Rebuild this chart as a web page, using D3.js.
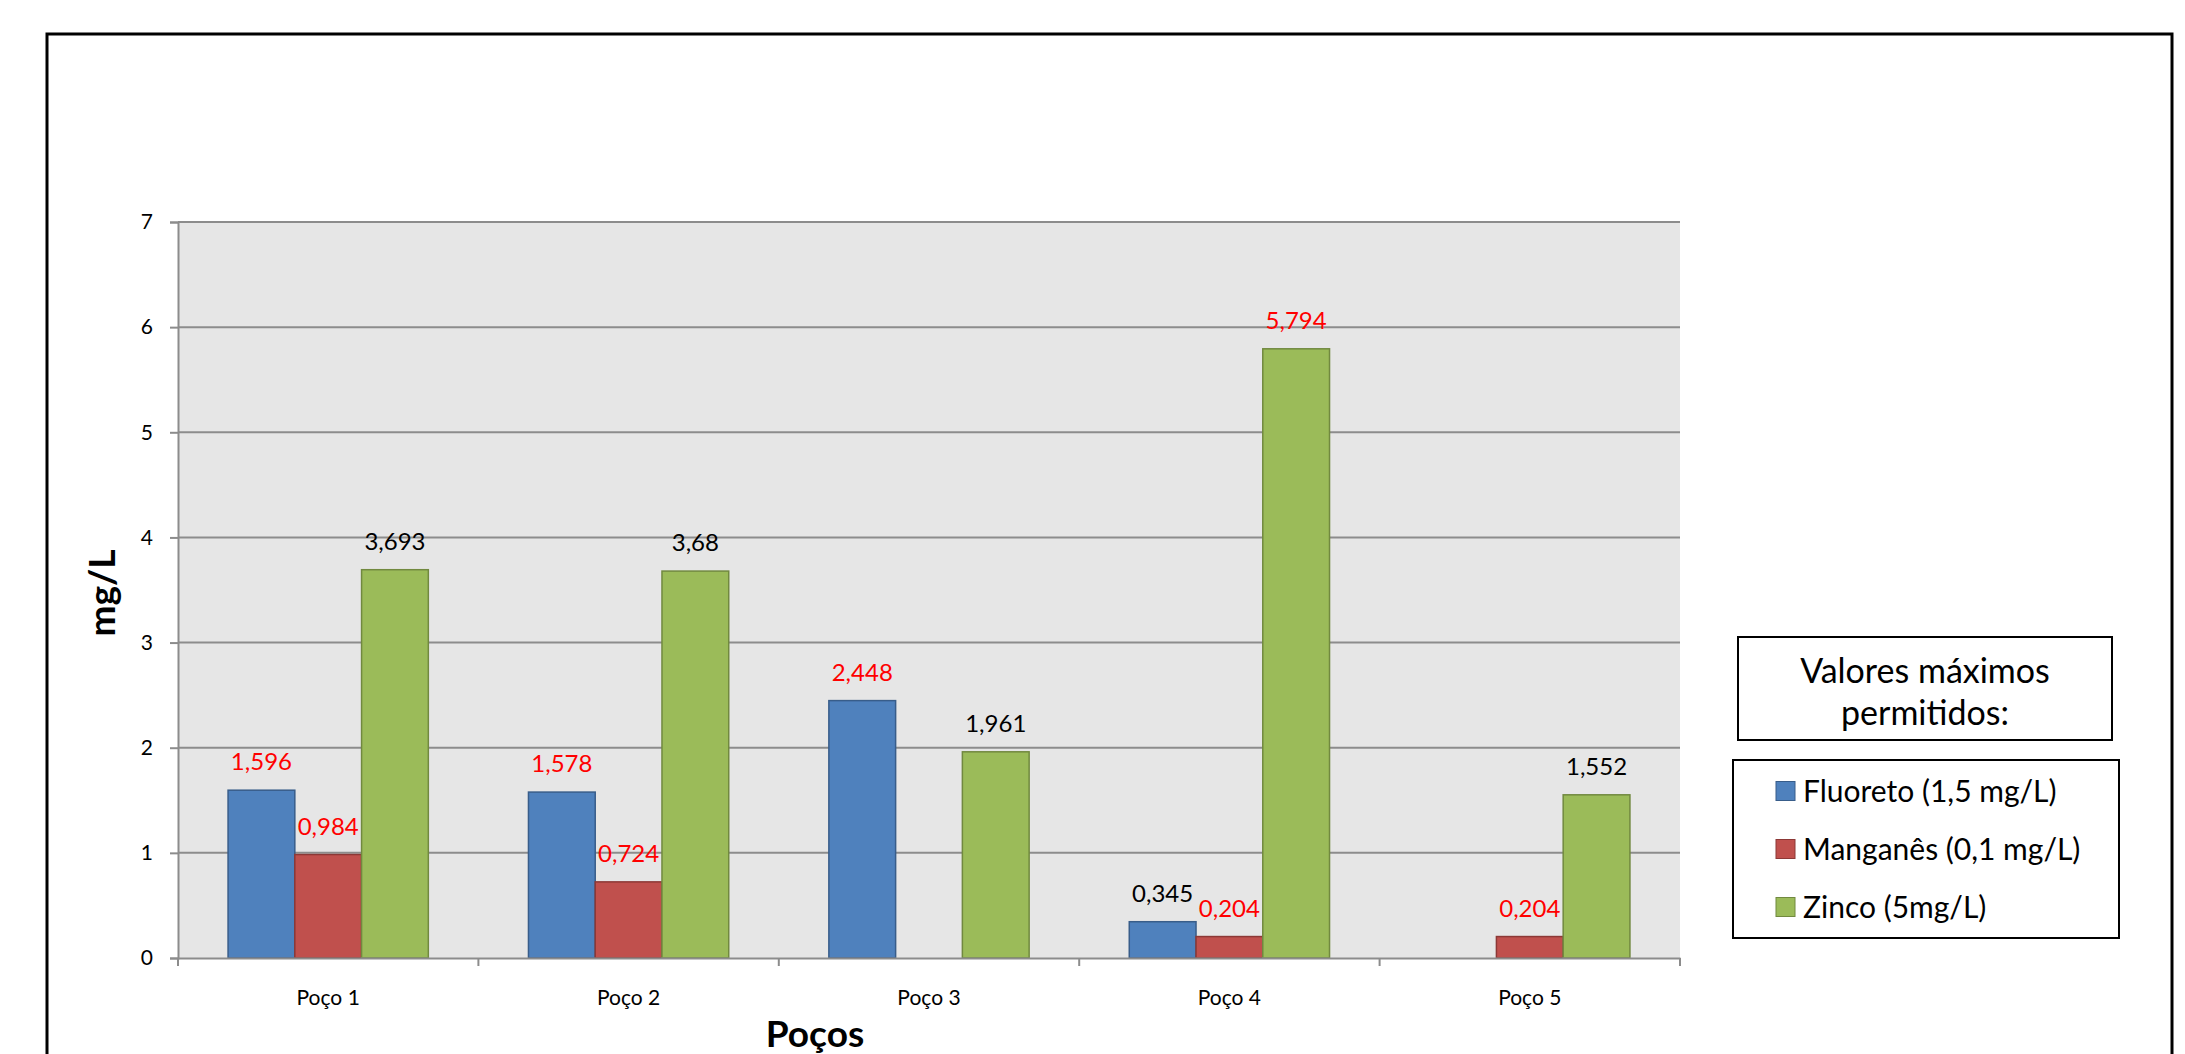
<!DOCTYPE html>
<html>
<head>
<meta charset="utf-8">
<title>Poços - mg/L</title>
<style>
  body { margin: 0; background: #fff; overflow: hidden; }
  svg text { font-family: Lato, "Open Sans", sans-serif; }
</style>
</head>
<body>
<svg id="chart" width="2185" height="1054"></svg>
<script src="https://d3js.org/d3.v7.min.js"></script>
<script>
// data
var wells = ['Poço 1', 'Poço 2', 'Poço 3', 'Poço 4', 'Poço 5'];
var seriesNames = ['Fluoreto (1,5 mg/L)', 'Manganês (0,1 mg/L)', 'Zinco (5mg/L)'];
var limits = [1.5, 0.1, 5];
var fluoreto = [1.596, 1.578, 2.448, 0.345, null];
var manganes = [0.984, 0.724, null, 0.204, 0.204];
var zinco = [3.693, 3.68, 1.961, 5.794, 1.552];
var yTicks = [0, 1, 2, 3, 4, 5, 6, 7];
var fills = ['#4F81BD', '#C0504D', '#9BBB59'];
var strokes = ['#385D8A', '#8C3836', '#71893F'];

var series = [fluoreto, manganes, zinco];

var svg = d3.select('#chart');

// outer frame (bottom edge runs off the picture)
svg.append('rect')
    .attr('x', 47).attr('y', 34)
    .attr('width', 2125).attr('height', 1100)
    .attr('fill', 'none').attr('stroke', '#000').attr('stroke-width', 3);

var plot = { left: 178, right: 1680, top: 222, bottom: 958 };

var x = d3.scaleBand()
    .domain(wells)
    .range([plot.left, plot.right]);

var bw = x.bandwidth() / 4.5;
var xs = d3.scaleBand()
    .domain([0, 1, 2])
    .range([0.75 * bw, 3.75 * bw]);

var y = d3.scaleLinear()
    .domain([0, 7])
    .range([plot.bottom, plot.top]);

// plot background
svg.append('rect')
    .attr('x', plot.left).attr('y', plot.top)
    .attr('width', plot.right - plot.left).attr('height', plot.bottom - plot.top)
    .attr('fill', '#E6E6E6');

// gridlines
svg.append('g')
    .selectAll('line')
    .data(yTicks.slice(1))
    .join('line')
    .attr('x1', plot.left).attr('x2', plot.right)
    .attr('y1', function (d) { return y(d); })
    .attr('y2', function (d) { return y(d); })
    .attr('stroke', '#8C8C8C').attr('stroke-width', 2);

// bars
var rows = [];
series.forEach(function (vals, s) {
    vals.forEach(function (v, i) {
        if (v !== null) rows.push({ s: s, well: wells[i], v: v });
    });
});

svg.append('g')
    .selectAll('rect')
    .data(rows)
    .join('rect')
    .attr('x', function (d) { return x(d.well) + xs(d.s); })
    .attr('y', function (d) { return y(d.v); })
    .attr('width', xs.bandwidth())
    .attr('height', function (d) { return y(0) - y(d.v); })
    .attr('fill', function (d) { return fills[d.s]; })
    .attr('stroke', function (d) { return strokes[d.s]; })
    .attr('stroke-width', 1.5);

// data labels, red when the maximum allowed value is exceeded
svg.append('g')
    .selectAll('text')
    .data(rows)
    .join('text')
    .attr('x', function (d) { return x(d.well) + xs(d.s) + xs.bandwidth() / 2; })
    .attr('y', function (d) { return y(d.v) - 20; })
    .attr('text-anchor', 'middle')
    .attr('font-size', 24)
    .attr('fill', function (d) { return d.v > limits[d.s] ? '#FF0000' : '#000'; })
    .text(function (d) { return String(d.v).replace('.', ','); });

// y axis
var yAxis = svg.append('g')
    .attr('transform', 'translate(' + plot.left + ',0)')
    .call(d3.axisLeft(y).tickValues(yTicks).tickSize(8).tickPadding(17).tickFormat(d3.format('d')));
yAxis.select('.domain').attr('stroke', '#8C8C8C').attr('stroke-width', 2);
yAxis.selectAll('.tick line').attr('stroke', '#8C8C8C').attr('stroke-width', 2);
yAxis.selectAll('.tick text').attr('font-size', 21).attr('font-family', 'Lato').attr('fill', '#000');

// x axis
var xAxis = svg.append('g')
    .attr('transform', 'translate(0,' + plot.bottom + ')')
    .call(d3.axisBottom(x).tickSize(0).tickPadding(32));
xAxis.select('.domain').attr('stroke', '#8C8C8C').attr('stroke-width', 2);
xAxis.selectAll('.tick text').attr('font-size', 21).attr('font-family', 'Lato').attr('fill', '#000');

// category separators on the x axis
var bounds = wells.map(function (w) { return x(w); }).concat([plot.right]);
svg.append('g')
    .selectAll('line')
    .data(bounds)
    .join('line')
    .attr('x1', function (d) { return d; }).attr('x2', function (d) { return d; })
    .attr('y1', plot.bottom).attr('y2', plot.bottom + 8)
    .attr('stroke', '#8C8C8C').attr('stroke-width', 2);

// axis titles
svg.append('text')
    .attr('x', 815)
    .attr('y', 1047)
    .attr('text-anchor', 'middle')
    .attr('font-size', 37).attr('font-weight', 'bold')
    .text('Poços');

svg.append('text')
    .attr('transform', 'translate(115,593) rotate(-90)')
    .attr('text-anchor', 'middle')
    .attr('font-size', 37).attr('font-weight', 'bold')
    .text('mg/L');

// legend title box
svg.append('rect')
    .attr('x', 1738).attr('y', 637)
    .attr('width', 374).attr('height', 103)
    .attr('fill', '#fff').attr('stroke', '#000').attr('stroke-width', 2);

svg.append('text')
    .attr('x', 1925).attr('y', 683)
    .attr('text-anchor', 'middle').attr('font-size', 34)
    .text('Valores máximos');
svg.append('text')
    .attr('x', 1925).attr('y', 725)
    .attr('text-anchor', 'middle').attr('font-size', 34)
    .text('permitidos:');

// legend
svg.append('rect')
    .attr('x', 1733).attr('y', 760)
    .attr('width', 386).attr('height', 178)
    .attr('fill', '#fff').attr('stroke', '#000').attr('stroke-width', 2);

var legend = svg.append('g')
    .selectAll('g')
    .data(seriesNames)
    .join('g')
    .attr('transform', function (d, i) { return 'translate(1776,' + (791 + i * 58) + ')'; });

legend.append('rect')
    .attr('x', 0).attr('y', -9.5)
    .attr('width', 19).attr('height', 19)
    .attr('fill', function (d, i) { return fills[i]; })
    .attr('stroke', function (d, i) { return strokes[i]; })
    .attr('stroke-width', 1);

legend.append('text')
    .attr('x', 27).attr('y', 0)
    .attr('dy', '0.35em')
    .attr('font-size', 30)
    .text(function (d) { return d; });
</script>
</body>
</html>
